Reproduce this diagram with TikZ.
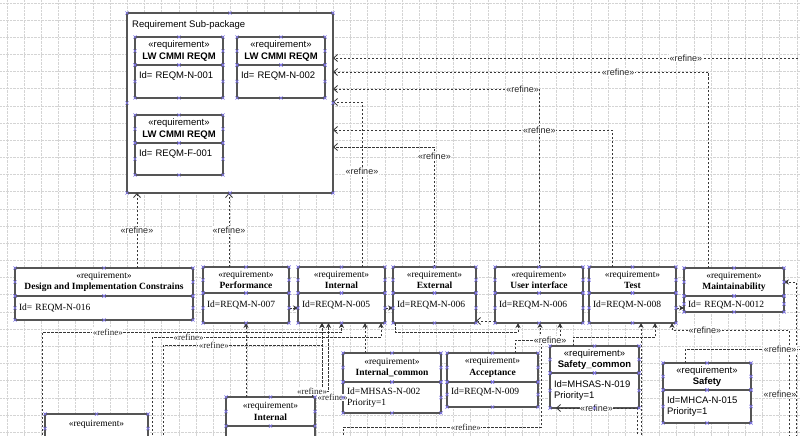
\documentclass[tikz,border=0pt]{standalone}
\usepackage{fontspec}
\setmainfont{Liberation Serif}
\setsansfont{Liberation Sans}
\usetikzlibrary{positioning,arrows.meta}
\definecolor{boxgray}{RGB}{85,85,85}
\definecolor{linegray}{RGB}{55,55,55}
\definecolor{handlec}{RGB}{128,118,232}
\definecolor{gridcol}{RGB}{212,212,212}

\begin{document}
\begin{tikzpicture}[x=1pt,y=-1pt,
	hd/.style 2 args={draw=boxgray, line width=1.2pt, fill=white, outer sep=0pt, inner sep=0pt, align=center, anchor=north west, minimum width=#1, minimum height=#2},
	bd/.style 2 args={draw=boxgray, line width=1.2pt, fill=white, outer sep=0pt, inner xsep=4pt, inner ysep=0pt, align=left, text width=#1, minimum height=#2},
	one/.style={text height=7pt, text depth=#1},
	sanstext/.style={font=\sffamily\fontsize{9.5}{11.5}\selectfont},
	seriftext/.style={font=\rmfamily\fontsize{9.5}{11.5}\selectfont},
	pkgbox/.style={draw=boxgray, line width=1.2pt, fill=white, outer sep=0pt, anchor=north west, minimum width=206, minimum height=180},
	dashln/.style={draw=linegray, line width=0.8pt, dash pattern=on 2.5pt off 1.5pt},
	refine/.style={dashln, -{Straight Barb[length=4pt,width=7pt]}},
	dep/.style={dashln, -{Stealth[length=5pt,width=5pt]}},
	lbl/.style={fill=white, inner sep=0.5pt, text=black!85, font=\sffamily\fontsize{9}{10}\selectfont},
	lblr/.style={lbl, font=\rmfamily\fontsize{9}{10}\selectfont},
	gridln/.style={draw=gridcol, line width=0.4pt, densely dotted},
	hmark/.style={draw=handlec, line width=0.7pt}]
\useasboundingbox (0,0) rectangle (800,436);
\clip (0,0) rectangle (800,436);
\fill[white] (0,0) rectangle (800,436);
\foreach \i in {0,...,46} \draw[gridln] (7+\i*17.17,0) -- (7+\i*17.17,436);
\foreach \j in {0,...,25} \draw[gridln] (0,2.8+\j*17.17) -- (800,2.8+\j*17.17);

\node[pkgbox] (pkg) at (127,13) {};
\node[sanstext, anchor=north west, inner sep=0pt] (pkgname) at ([xshift=5pt,yshift=-7pt]pkg.north west) {Requirement Sub-package};
\node[hd={88}{28}, sanstext] (reqa) at (135,37) {«requirement»\\\textbf{LW CMMI REQM}};
\node[bd={80pt}{33}, sanstext, one=13.4pt, below=0pt of reqa] (reqaid) {Id= REQM-N-001};
\node[hd={88}{28}, sanstext] (reqb) at (237,37) {«requirement»\\\textbf{LW CMMI REQM}};
\node[bd={80pt}{33}, sanstext, one=13.4pt, below=0pt of reqb] (reqbid) {Id= REQM-N-002};
\node[hd={88}{28}, sanstext] (reqc) at (135,115) {«requirement»\\\textbf{LW CMMI REQM}};
\node[bd={80pt}{32}, sanstext, one=12.4pt, below=0pt of reqc] (reqcid) {Id= REQM-F-001};

\node[hd={178}{28}, seriftext] (design) at (15,268) {«requirement»\\\textbf{Design and Implementation Constrains}};
\node[bd={170pt}{24}, seriftext, one=2.4pt, below=0pt of design] (designid) {Id= REQM-N-016};
\node[hd={86}{26}, seriftext] (perf) at (203,267) {«requirement»\\\textbf{Performance}};
\node[bd={78pt}{30}, seriftext, one=8.5pt, below=0pt of perf] (perfid) {Id=REQM-N-007};
\node[hd={87}{26}, seriftext] (internal) at (298,267) {«requirement»\\\textbf{Internal}};
\node[bd={79pt}{30}, seriftext, one=8.5pt, below=0pt of internal] (internalid) {Id=REQM-N-005};
\node[hd={83}{26}, seriftext] (external) at (393,267) {«requirement»\\\textbf{External}};
\node[bd={75pt}{30}, seriftext, one=8.5pt, below=0pt of external] (externalid) {Id=REQM-N-006};
\node[hd={88}{26}, seriftext] (ui) at (495,267) {«requirement»\\\textbf{User interface}};
\node[bd={80pt}{30}, seriftext, one=8.5pt, below=0pt of ui] (uiid) {Id=REQM-N-006};
\node[hd={87}{26}, seriftext] (test) at (589,267) {«requirement»\\\textbf{Test}};
\node[bd={79pt}{30}, seriftext, one=8.5pt, below=0pt of test] (testid) {Id=REQM-N-008};
\node[hd={100}{28}, seriftext] (maint) at (684,268) {«requirement»\\\textbf{Maintainability}};
\node[bd={92pt}{16}, seriftext, one=0pt, below=0pt of maint] (maintid) {Id= REQM-N-0012};

\node[hd={98}{29}, seriftext] (intcommon) at (343,353) {«requirement»\\\textbf{Internal\_common}};
\node[bd={90pt}{31}, seriftext, below=0pt of intcommon] (intcommonid) {Id=MHSAS-N-002\\Priority=1};
\node[hd={91}{29}, seriftext] (accept) at (447,353) {«requirement»\\\textbf{Acceptance}};
\node[bd={83pt}{25}, seriftext, one=7.4pt, below=0pt of accept] (acceptid) {Id=REQM-N-009};
\node[hd={89}{27}, sanstext] (safecommon) at (550,346) {«requirement»\\\textbf{Safety\_common}};
\node[bd={81pt}{35}, sanstext, below=0pt of safecommon] (safecommonid) {Id=MHSAS-N-019\\Priority=1};
\node[hd={88}{27}, sanstext] (safety) at (663,363) {«requirement»\\\textbf{Safety}};
\node[bd={80pt}{33}, sanstext, below=0pt of safety] (safetyid) {Id=MHCA-N-015\\Priority=1};
\node[hd={89}{29}, seriftext] (internalb) at (226,397) {«requirement»\\\textbf{Internal}};
\node[bd={81pt}{20}, seriftext, below=0pt of internalb] (internalbid) {};
\node[hd={103}{29}, seriftext, one=12pt] (lowleft) at (45,414) {«requirement»};

\coordinate (offR) at (810,58);
\draw[refine] (offR) -- (offR -| pkg.east) node[lbl, pos=0.26] {«refine»};
\draw[refine] ([xshift=-26pt]maint.north) |- ([yshift=-59pt]pkg.north east) node[lbl, pos=0.62] {«refine»};
\draw[refine] (ui.north) |- ([yshift=-76pt]pkg.north east) node[lbl, pos=0.54] {«refine»};
\draw[refine] ([xshift=20.5pt]internal.north) |- ([yshift=-89pt]pkg.north east) node[lbl, pos=0.29] {«refine»};
\draw[refine] ([xshift=-20.5pt]test.north) |- ([yshift=-117pt]pkg.north east) node[lbl, pos=0.63] {«refine»};
\draw[refine] (external.north) |- ([yshift=-134pt]pkg.north east) node[lbl, pos=0.46] {«refine»};
\coordinate (designup) at ([xshift=33pt]design.north);
\draw[refine] (designup) -- (designup |- pkg.south) node[lbl, midway] {«refine»};
\coordinate (perfup) at ([xshift=-17pt]perf.north);
\draw[refine] (perfup) -- (perfup |- pkg.south) node[lbl, midway] {«refine»};

\draw[dep] ([xshift=-3pt]lowleft.south west) |- ([yshift=-9pt]internalid.south) node[lblr, pos=0.61] {«refine»} -- (internalid.south);
\draw[dep] ([xshift=4pt]lowleft.south east) |- ([xshift=-4pt,yshift=-14pt]internalid.south east) node[lblr, pos=0.58] {«refine»} -- ([xshift=-4pt]internalid.south east);
\draw[dep] ([xshift=15pt]lowleft.south east) |- ([xshift=-19.5pt,yshift=-22pt]internalid.south) node[lblr, pos=0.66] {«refine»} -- ([xshift=-19.5pt]internalid.south);
\draw[dep] ([xshift=-24.5pt]internalb.north) -- (perfid.south);
\draw[dep] (intcommonid.west) -| ([xshift=-19.5pt]internalid.south) node[lblr, pos=0.25] {«refine»};
\draw[dep] ([xshift=-3pt]internalb.north east) |- ([xshift=-13pt,yshift=-68pt]internalid.south) node[lblr, pos=0.5] {«refine»} -- ([xshift=-13pt]internalid.south);
\draw[dep] ([xshift=-27pt]intcommon.north) -- ([xshift=23.5pt]internalid.south);
\draw[dep] (perfid.east) -- (internalid.west);
\draw[dep] (internalid.east) -- (externalid.west);
\draw[refine] ([yshift=2pt]uiid.south west) -- ([yshift=2pt]externalid.south east);
\draw[dep] (testid.east) -- (testid.east -| maintid.west);
\draw[dep] ([xshift=2pt]externalid.south west) |- ([xshift=23pt,yshift=-9pt]uiid.south west) -- ([xshift=23pt]uiid.south west);
\draw[dep] ([xshift=22.5pt]accept.north) |- ([xshift=45pt,yshift=-17pt]uiid.south west) -- ([xshift=45pt]uiid.south west);
\draw[dep] ([yshift=-30pt]intcommonid.south west) |- ([xshift=3pt,yshift=-20pt]acceptid.south east) node[lblr, pos=0.81] {«refine»} |- ([xshift=65pt,yshift=-17pt]uiid.south west) node[lbl, pos=0.74] {«refine»} -- ([xshift=65pt]uiid.south west);
\draw[dep] ([xshift=-21.5pt]safecommon.north) |- ([xshift=66pt,yshift=-14pt]testid.south west) -- ([xshift=66pt]testid.south west);
\draw[refine] ([xshift=-2pt,yshift=-30pt]safecommonid.south east) |- ([xshift=6pt]safecommonid.south west) node[lbl, pos=0.75] {«refine»};
\draw[dep] ([xshift=52pt,yshift=-120pt]testid.south west) -- ([xshift=52pt]testid.south west);
\coordinate (offB) at (789,445);
\draw[dep] (offB) |- ([xshift=-4pt,yshift=-7pt]testid.south east) node[lbl, pos=0.22, xshift=-9pt] {«refine»} node[lbl, pos=0.86] {«refine»} -- ([xshift=-4pt]testid.south east);
\coordinate (offC) at (796,445);
\draw[dep] (offC) |- ([yshift=-14pt]maint.north east);
\coordinate (offD) at (810,349);
\draw[dashln] ([xshift=-22pt]safety.north) |- (offD) node[lbl, pos=0.88] {«refine»};

\foreach \n in {pkg,reqa,reqaid,reqb,reqbid,reqc,reqcid,design,designid,perf,perfid,internal,internalid,external,externalid,ui,uiid,test,testid,maint,maintid,intcommon,intcommonid,accept,acceptid,safecommon,safecommonid,safety,safetyid,internalb,lowleft}{
	\foreach \a in {north west,north,north east,east,south east,south,south west,west}
		\draw[hmark] (\n.\a) ++(-1.6,-1.6) -- ++(3.2,3.2) ++(-3.2,0) -- ++(3.2,-3.2);
}
\end{tikzpicture}
\end{document}
